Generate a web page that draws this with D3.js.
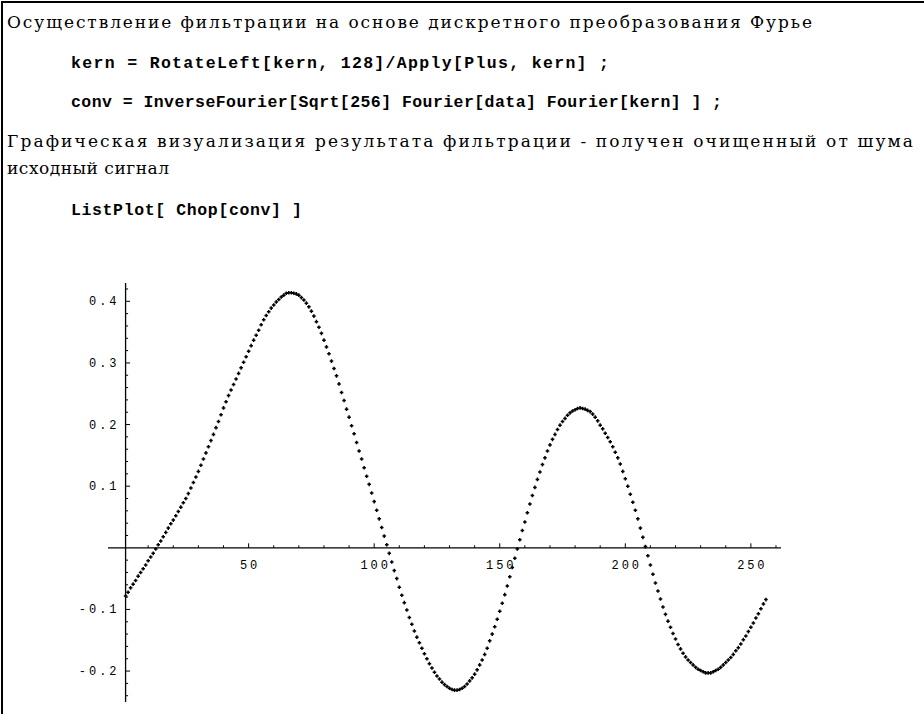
<!DOCTYPE html>
<html>
<head>
<meta charset="utf-8">
<script src="https://cdn.jsdelivr.net/npm/d3@7"></script>
<style>
  html, body { margin: 0; padding: 0; background: #fff; }
  svg { display: block; }
</style>
</head>
<body>
<svg id="chart" width="924" height="714"></svg>
<script>
// ---- text content ----
const proseLines = [
  "Осуществление фильтрации на основе дискретного преобразования Фурье",
  "Графическая визуализация результата фильтрации - получен очищенный от шума",
  "исходный сигнал"
];
const codeLines = [
  "kern = RotateLeft[kern, 128]/Apply[Plus, kern] ;",
  "conv = InverseFourier[Sqrt[256] Fourier[data] Fourier[kern] ] ;",
  "ListPlot[ Chop[conv] ]"
];

// ---- axis ticks ----
const xMajorTicks = [50, 100, 150, 200, 250];
const xMinorTicks = [10, 20, 30, 40, 60, 70, 80, 90, 110, 120, 130, 140, 160, 170, 180, 190, 210, 220, 230, 240, 260];
const yMajorTicks = [-0.2, -0.1, 0.1, 0.2, 0.3, 0.4];
const yMinorTicks = [-0.24, -0.22, -0.18, -0.16, -0.14, -0.12, -0.08, -0.06, -0.04, -0.02,
                     0.02, 0.04, 0.06, 0.08, 0.12, 0.14, 0.16, 0.18, 0.22, 0.24, 0.26, 0.28,
                     0.32, 0.34, 0.36, 0.38, 0.42];

// ---- series: Chop[conv], points 1..256 ----
const convValues = [
  -0.078, -0.072, -0.065, -0.059, -0.053, -0.046, -0.040, -0.034, -0.028, -0.021, -0.015, -0.009, -0.002,
  0.005, 0.011, 0.018, 0.025, 0.032, 0.039, 0.045, 0.052, 0.059, 0.066, 0.073, 0.080,
  0.088, 0.097, 0.106, 0.115, 0.124, 0.134, 0.144, 0.154, 0.164, 0.174, 0.184, 0.195, 0.205, 0.216, 0.227,
  0.237, 0.247, 0.256, 0.265, 0.274, 0.283, 0.292, 0.301, 0.310, 0.319, 0.328, 0.337, 0.345, 0.353,
  0.362, 0.370, 0.377, 0.383, 0.389, 0.394, 0.399, 0.403, 0.407, 0.410, 0.413, 0.414, 0.414, 0.413, 0.412, 0.410,
  0.406, 0.402, 0.397, 0.391, 0.384, 0.376, 0.367, 0.358, 0.348, 0.337, 0.326, 0.315, 0.303, 0.291, 0.279,
  0.266, 0.252, 0.239, 0.225, 0.212, 0.198, 0.185, 0.171, 0.157, 0.144, 0.130, 0.116, 0.103, 0.089, 0.075,
  0.061, 0.047, 0.033, 0.019, 0.005,
  -0.009, -0.023, -0.037, -0.050, -0.064, -0.077, -0.089, -0.101, -0.113, -0.124, -0.135, -0.145, -0.154,
  -0.163, -0.172, -0.180, -0.188, -0.195, -0.202, -0.208, -0.213, -0.218, -0.222, -0.225, -0.228, -0.230,
  -0.231, -0.231, -0.230,
  -0.228, -0.225, -0.221, -0.216, -0.211, -0.205, -0.198, -0.190, -0.182, -0.173, -0.163,
  -0.151, -0.140, -0.128, -0.116, -0.103, -0.090, -0.076, -0.062, -0.047, -0.032, -0.017, -0.002,
  0.013, 0.028, 0.042, 0.057, 0.071, 0.085, 0.098, 0.111, 0.123, 0.135, 0.146, 0.157, 0.167, 0.176,
  0.184, 0.192, 0.199, 0.205, 0.210, 0.215, 0.219, 0.222, 0.224, 0.226, 0.227,
  0.226, 0.225, 0.223, 0.221, 0.217, 0.212, 0.206, 0.199, 0.193, 0.186, 0.179, 0.172, 0.164, 0.155,
  0.146, 0.136, 0.124, 0.112, 0.100, 0.087, 0.074, 0.061, 0.047, 0.032, 0.017, 0.002,
  -0.013, -0.028, -0.043, -0.057, -0.070, -0.083, -0.096, -0.108, -0.119, -0.129, -0.139, -0.148,
  -0.157, -0.164, -0.171, -0.177, -0.182, -0.186, -0.190, -0.194, -0.197, -0.199, -0.201, -0.203,
  -0.203, -0.203, -0.201, -0.199, -0.197, -0.194, -0.190, -0.186, -0.182, -0.178, -0.173, -0.167,
  -0.162, -0.156, -0.149, -0.143, -0.136, -0.129, -0.122, -0.114, -0.107, -0.099, -0.091, -0.084
];

// ---- drawing ----
const svg = d3.select("#chart");

// notebook frame (top and left edges)
svg.append("rect").attr("x", 1).attr("y", 1).attr("width", 923).attr("height", 2).attr("fill", "#000");
svg.append("rect").attr("x", 1).attr("y", 1).attr("width", 2).attr("height", 713).attr("fill", "#000");

const serif = "'DejaVu Serif', 'Liberation Serif', serif";
const mono = "'Liberation Mono', 'Courier New', monospace";

// prose text
const proseLayout = [
  {x: 7, y: 28, w: 805},
  {x: 7, y: 147, w: 906},
  {x: 7, y: 174, w: 162}
];
proseLines.forEach((t, i) => {
  const L = proseLayout[i];
  svg.append("text").attr("x", L.x).attr("y", L.y)
    .attr("font-family", serif).attr("font-size", 17).attr("fill", "#000")
    .attr("textLength", L.w).attr("lengthAdjust", "spacing")
    .text(t);
});

// code text
const codeLayout = [
  {x: 71, y: 68, w: 538},
  {x: 71, y: 107, w: 651},
  {x: 71, y: 215, w: 231}
];
codeLines.forEach((t, i) => {
  const L = codeLayout[i];
  svg.append("text").attr("x", L.x).attr("y", L.y)
    .attr("font-family", mono).attr("font-size", 16.5).attr("font-weight", "bold").attr("fill", "#000")
    .attr("textLength", L.w).attr("lengthAdjust", "spacing")
    .attr("xml:space", "preserve").style("white-space", "pre")
    .text(t);
});

// scales
const x = d3.scaleLinear().domain([-6, 262]).range([108, 781]);
const y = d3.scaleLinear().domain([-0.2502, 0.4297]).range([702, 283]);
const x0 = x(1);   // vertical axis sits at the first sample
const y0 = y(0);

const g = svg.append("g");

// x axis line
g.append("line").attr("x1", x.range()[0]).attr("x2", x.range()[1])
  .attr("y1", y0).attr("y2", y0).attr("stroke", "#000").attr("stroke-width", 1.3);
// y axis line
g.append("line").attr("x1", x0).attr("x2", x0)
  .attr("y1", y.range()[1]).attr("y2", y.range()[0]).attr("stroke", "#000").attr("stroke-width", 1.3);

// x ticks (pointing up)
g.selectAll(".xmaj").data(xMajorTicks).join("line")
  .attr("x1", d => x(d)).attr("x2", d => x(d)).attr("y1", y0).attr("y2", y0 - 4.5)
  .attr("stroke", "#000").attr("stroke-width", 1);
g.selectAll(".xmin").data(xMinorTicks).join("line")
  .attr("x1", d => x(d)).attr("x2", d => x(d)).attr("y1", y0).attr("y2", y0 - 2.5)
  .attr("stroke", "#000").attr("stroke-width", 1);
// y ticks (pointing right)
g.selectAll(".ymaj").data(yMajorTicks).join("line")
  .attr("x1", x0).attr("x2", x0 + 4.5).attr("y1", d => y(d)).attr("y2", d => y(d))
  .attr("stroke", "#000").attr("stroke-width", 1);
g.selectAll(".ymin").data(yMinorTicks).join("line")
  .attr("x1", x0).attr("x2", x0 + 2.5).attr("y1", d => y(d)).attr("y2", d => y(d))
  .attr("stroke", "#000").attr("stroke-width", 1);

// tick labels (wide-set Courier look: pitch ~10.3px per character)
const pitch = 10.3, glyphW = 6.8;
const labW = s => (s.length - 1) * pitch + glyphW;
const xFmt = d3.format("d");
const yFmt = d => d3.format(".1f")(d).replace("\u2212", "-");
g.selectAll(".xlab").data(xMajorTicks).join("text")
  .attr("x", d => x(d)).attr("y", y0 + 21)
  .attr("text-anchor", "middle")
  .attr("font-family", mono).attr("font-size", 12).attr("fill", "#000")
  .attr("textLength", d => labW(xFmt(d))).attr("lengthAdjust", "spacing")
  .text(xFmt);
g.selectAll(".ylab").data(yMajorTicks).join("text")
  .attr("x", 116.5).attr("y", d => y(d) + 4)
  .attr("text-anchor", "end")
  .attr("font-family", mono).attr("font-size", 12).attr("fill", "#000")
  .attr("textLength", d => labW(yFmt(d))).attr("lengthAdjust", "spacing")
  .text(yFmt);

// points
g.selectAll(".pt").data(convValues).join("path")
  .attr("transform", (d, i) => `translate(${x(i + 1)},${y(d)})`)
  .attr("d", "M-1.8,0H1.8M0,-1.8V1.8")
  .attr("stroke", "#000").attr("stroke-width", 1.5).attr("fill", "none");
</script>
</body>
</html>
